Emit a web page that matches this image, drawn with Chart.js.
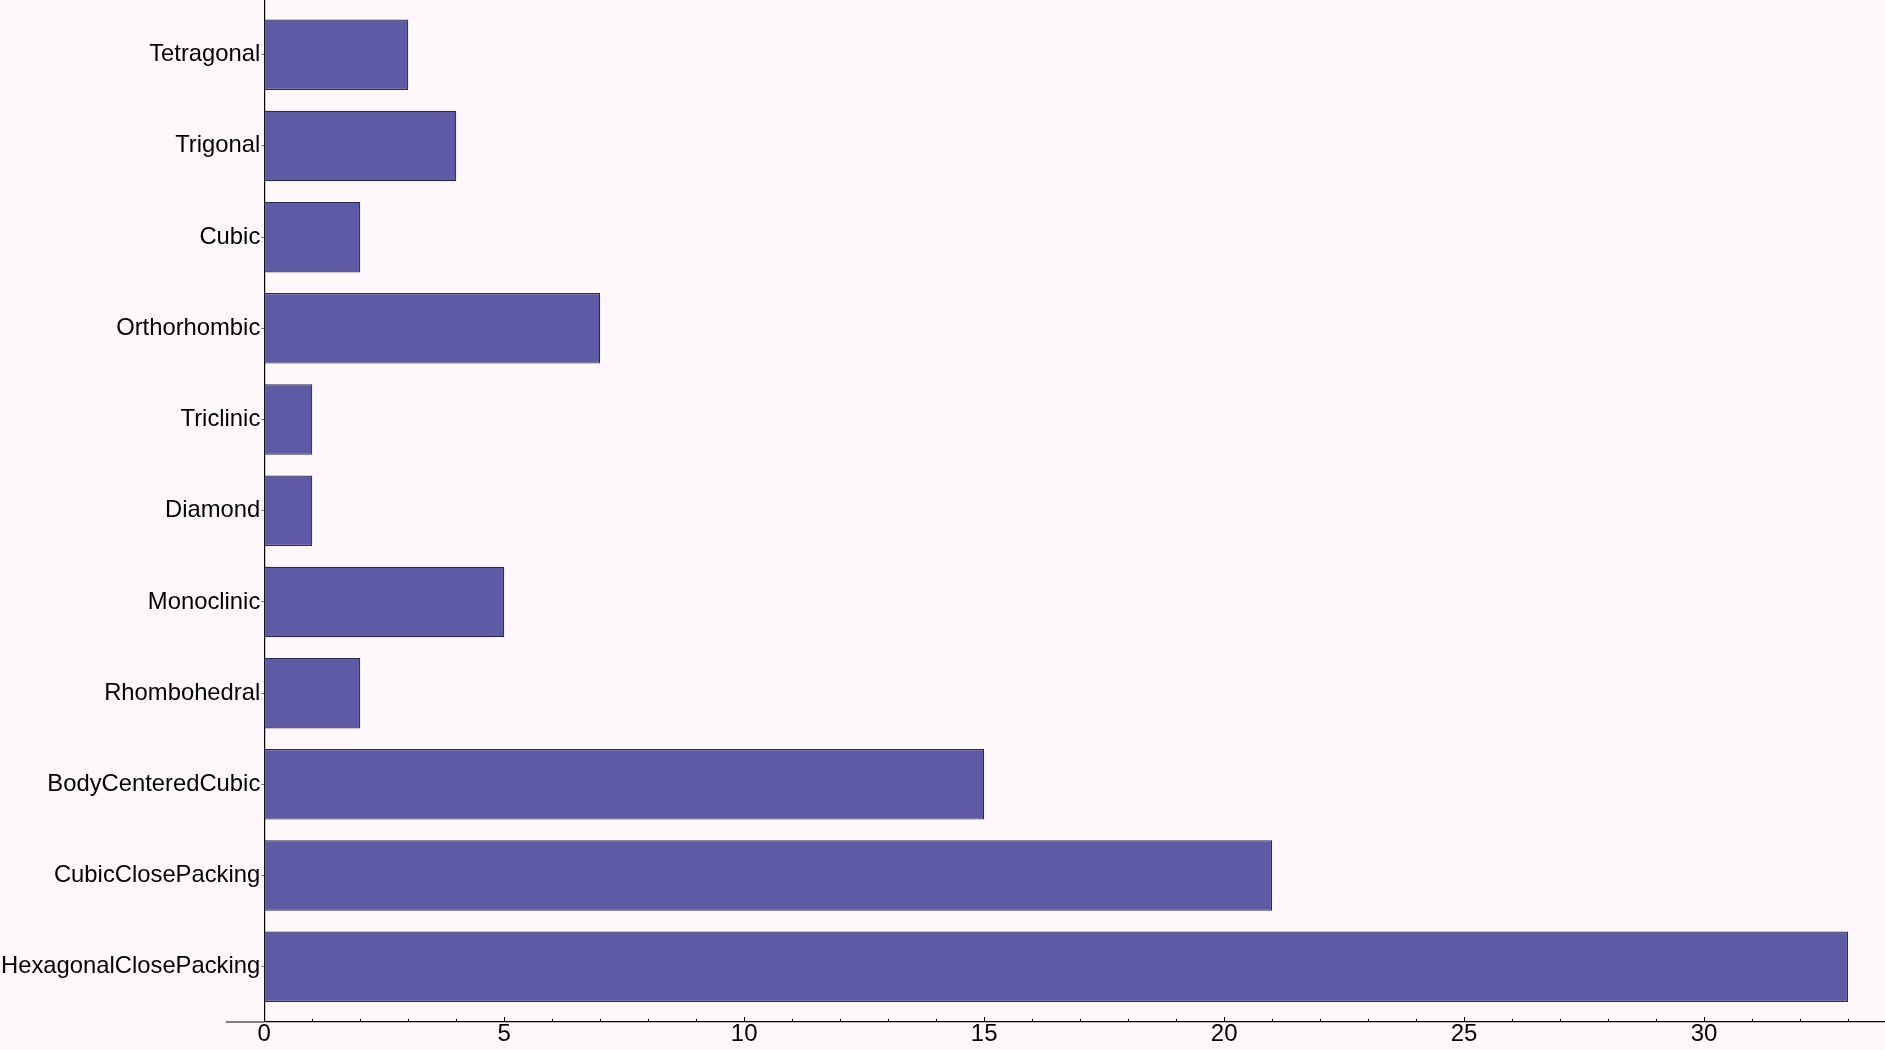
<!DOCTYPE html>
<html>
<head>
<meta charset="utf-8">
<script src="https://cdn.jsdelivr.net/npm/chart.js@4"></script>
<style>
  html, body { margin: 0; padding: 0; background: #fef8fa; }
  #wrap { width: 1885px; height: 1050px; position: relative; }
</style>
</head>
<body>
<div id="wrap"><canvas id="myChart"></canvas></div>
<script>
// 격자 유형별 개수
const categories = ['Tetragonal', 'Trigonal', 'Cubic', 'Orthorhombic', 'Triclinic', 'Diamond',
    'Monoclinic', 'Rhombohedral', 'BodyCenteredCubic', 'CubicClosePacking', 'HexagonalClosePacking'];
const counts = [3, 4, 2, 7, 1, 1, 5, 2, 15, 21, 33];
const xTickValues = Array.from({ length: 34 }, (_, i) => i);

// x축 눈금을 안쪽으로 그리고, 축선을 왼쪽으로 조금 늘림
const innerTicks = {
    id: 'innerTicks',
    afterDraw(chart) {
        const x = chart.scales.x;
        const ctx = chart.ctx;
        const bottom = chart.chartArea.bottom;
        ctx.save();
        ctx.strokeStyle = '#000';
        ctx.lineWidth = 1.2;
        ctx.beginPath();
        ctx.moveTo(x.getPixelForValue(-0.8), bottom + 0.5);
        ctx.lineTo(x.getPixelForValue(0), bottom + 0.5);
        ctx.stroke();
        ctx.lineWidth = 1;
        x.ticks.forEach(t => {
            const px = Math.round(x.getPixelForValue(t.value)) + 0.5;
            const len = t.value % 5 === 0 ? 4.5 : 2.5;
            ctx.beginPath();
            ctx.moveTo(px, bottom);
            ctx.lineTo(px, bottom - len);
            ctx.stroke();
        });
        ctx.restore();
    }
};

const ctx = document.getElementById('myChart').getContext('2d');
const chart = new Chart(ctx, {
    type: 'bar',
    data: {
        datasets: [{
            data: counts.map((v, i) => ({ x: v, y: i })),
            backgroundColor: 'rgb(94, 91, 165)',
            borderColor: 'rgb(42, 40, 84)',
            borderWidth: 1.2,
            borderSkipped: false,
            barPercentage: 0.773,
            categoryPercentage: 1
        }]
    },
    options: {
        indexAxis: 'y',
        responsive: true,
        maintainAspectRatio: false,
        animation: false,
        layout: { padding: 0 },
        plugins: {
            legend: { display: false },
            tooltip: { enabled: false }
        },
        scales: {
            x: {
                type: 'linear',
                min: 0,
                max: 33.77,
                afterBuildTicks: s => { s.ticks = xTickValues.map(v => ({ value: v })); },
                afterFit: s => { s.height = 28.5; },
                grid: { display: false },
                border: { display: true, color: '#000', width: 1.2 },
                ticks: {
                    autoSkip: false,
                    maxRotation: 0,
                    padding: -8,
                    color: '#000',
                    font: { family: 'Liberation Sans', size: 24, lineHeight: 1.1 },
                    callback: v => (v % 5 === 0 ? v : '')
                }
            },
            y: {
                type: 'linear',
                reverse: true,
                offset: false,
                min: -0.6,
                max: 10.6,
                afterBuildTicks: s => { s.ticks = categories.map((_, i) => ({ value: i })); },
                afterFit: s => { s.paddingTop = 0; s.paddingBottom = 0; },
                grid: { offset: false, drawOnChartArea: false, tickLength: 3, color: '#777' },
                border: { display: true, color: '#000', width: 1.2 },
                ticks: {
                    autoSkip: false,
                    padding: 1,
                    color: '#000',
                    font: { family: 'Liberation Sans', size: 23.8 },
                    callback: v => categories[v]
                }
            }
        }
    },
    plugins: [innerTicks]
});
</script>
</body>
</html>
